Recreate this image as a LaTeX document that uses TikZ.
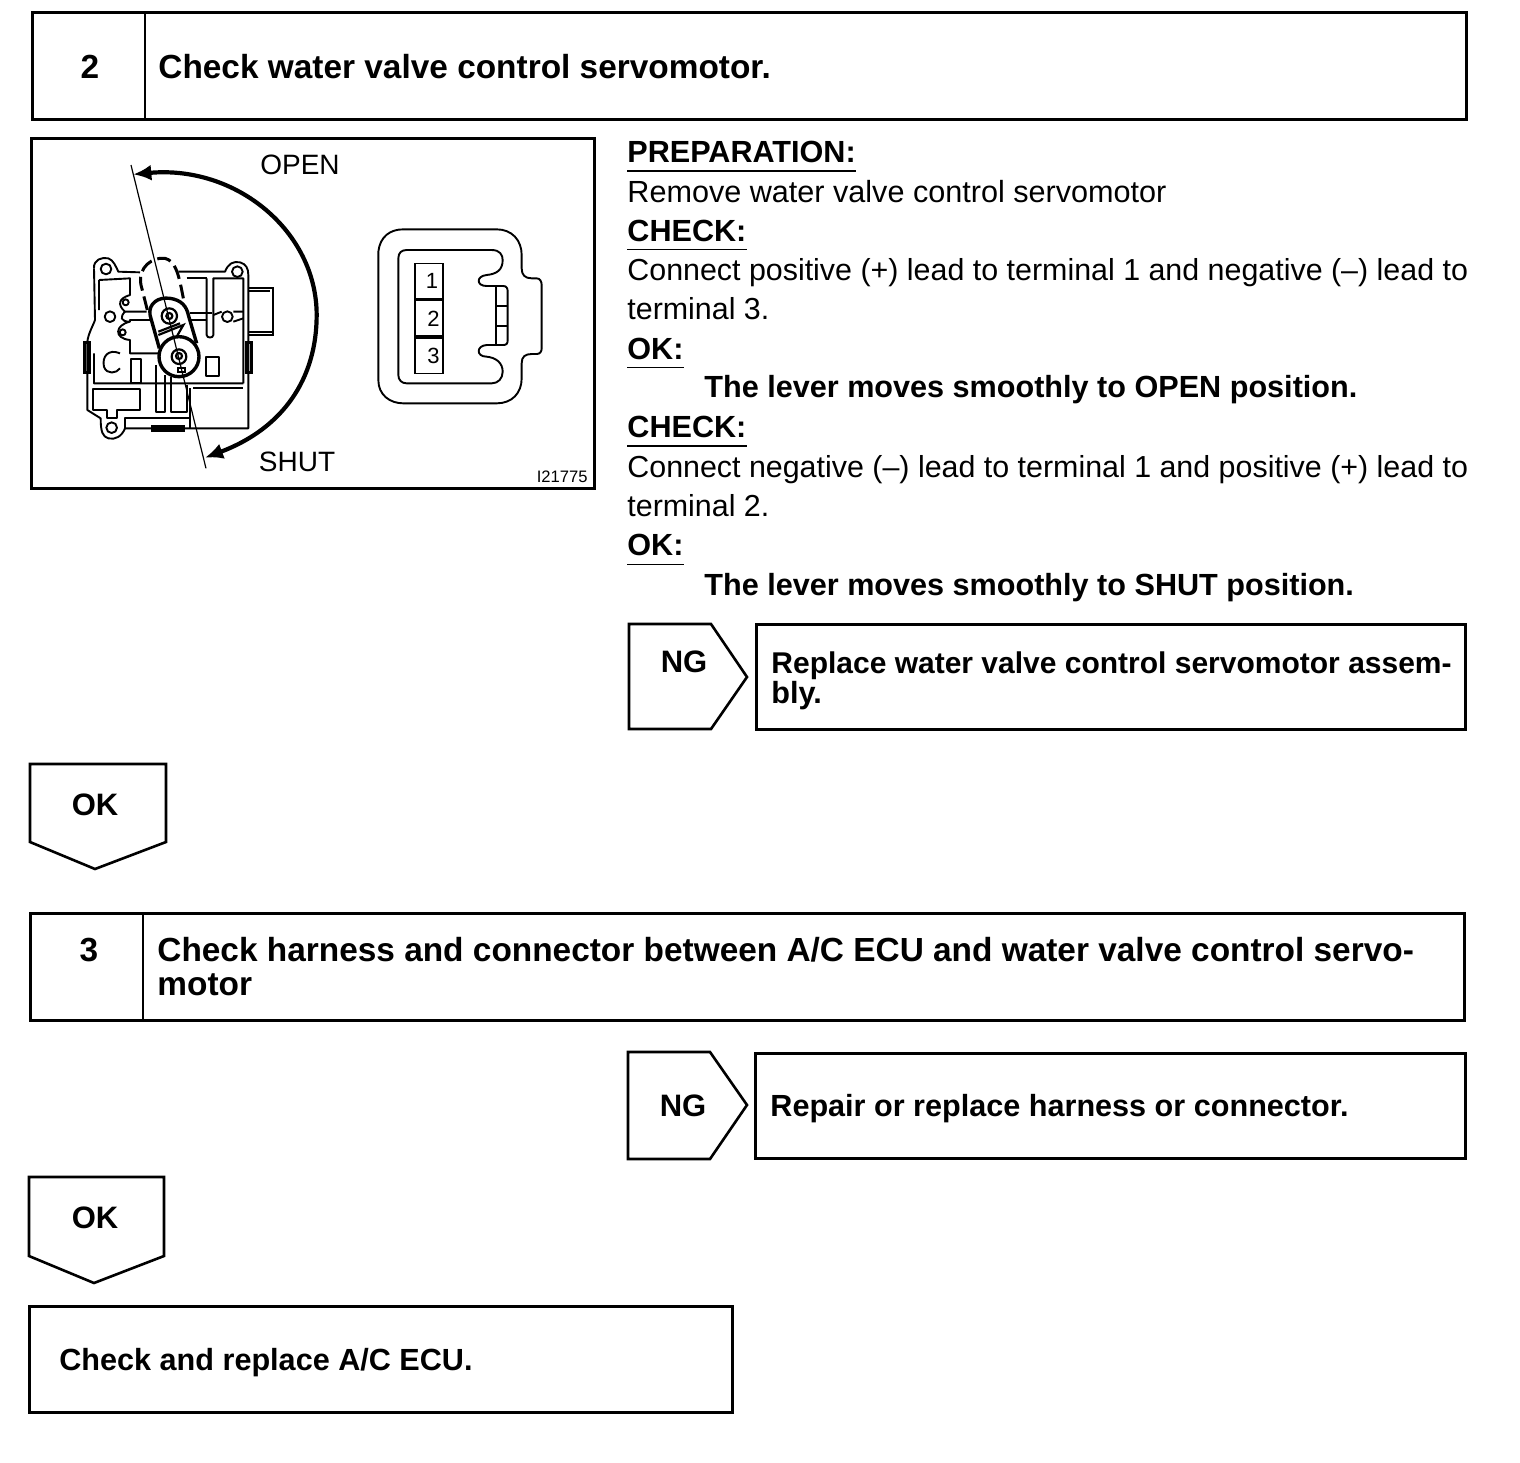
\documentclass[tikz,border=0pt]{standalone}
\usepackage{fontspec}
\setmainfont{Liberation Sans}
\usepackage{tikz}
\usetikzlibrary{arrows.meta,positioning}
\begin{document}
\begin{tikzpicture}[x=0.5pt,y=-0.5pt]
        \tikzstyle{framebox}=[draw=black,line width=1.4pt,rectangle,inner sep=0pt,anchor=north west]
        \tikzstyle{tagline}=[draw=black,line width=1.3pt,line join=miter]
        \tikzstyle{boldtext}=[anchor=base west,inner sep=0pt,font=\fontsize{16.7}{17}\selectfont\bfseries]
        \tikzstyle{midbold}=[anchor=base,inner sep=0pt,font=\fontsize{16.7}{17}\selectfont\bfseries]
        \tikzstyle{tagtext}=[anchor=base,inner sep=0pt,font=\fontsize{15.5}{17}\selectfont\bfseries]
        \tikzstyle{bodytext}=[anchor=base west,inner sep=0pt,font=\fontsize{15.2}{17}\selectfont]
        \tikzstyle{headtext}=[anchor=base west,inner sep=0pt,font=\fontsize{15.3}{17}\selectfont\bfseries]
        \tikzstyle{figtext}=[anchor=base,inner sep=0pt,font=\fontsize{14}{17}\selectfont]
        \tikzstyle{underrule}=[draw=black,line width=0.8pt]
        \tikzstyle{partline}=[draw=black,line width=0.95pt,line join=round]
        \useasboundingbox (0,0) rectangle (1520,1462);
        % step 2 header
        \node[framebox,minimum width=717pt,minimum height=53.5pt] (head2) at (31,11) {};
        \draw[framebox] (145,12) -- (145,120);
        \node[midbold] (num2) at (90,78) {2};
        \node[boldtext] (title2) at (158,78) {Check water valve control servomotor.};
        % figure frame
        \node[framebox,minimum width=281.5pt,minimum height=175pt] (figframe) at (30,137) {};
        \node[figtext] (open) at (300,174) {OPEN};
        \node[figtext] (shut) at (297,471) {SHUT};
        \node[anchor=base east,inner sep=0pt,font=\fontsize{8.3}{9}\selectfont] (figno) at (588,482) {I21775};
        % servomotor, traced
        \begin{scope}[shift={(30,135)},x=0.16667pt,y=-0.16667pt]
          \draw[partline] (192,400) .. controls (190,375) and (215,365) .. (235,370) .. controls (250,375) and (258,395) .. (265,410) -- (330,412);
          \draw[partline] (445,410) -- (585,410) .. controls (595,385) and (610,378) .. (630,382) .. controls (648,387) and (655,400) .. (655,420) -- (655,880) -- (285,880) .. controls (275,905) and (255,915) .. (235,910) .. controls (218,905) and (212,890) .. (212,850) -- (172,825) -- (172,620) .. controls (175,595) and (190,570) .. (195,555) -- (192,400);
          \draw[partline] (228,402) circle (16);
          \draw[partline] (622,410) circle (16);
          \draw[partline] (245,878) circle (16);
          \draw[partline] (240,545) circle (16);
          \draw[partline] (592,545) circle (16);
          \draw[partline] (287,502) circle (9);
          \draw[partline] (278,592) circle (9);
          \draw[partline] (207,435) -- (207,525) (207,435) -- (300,430) -- (300,480) .. controls (265,490) and (262,510) .. (285,530) -- (350,530);
          \draw[partline] (285,530) .. controls (270,545) and (270,560) .. (300,560) .. controls (255,570) and (250,610) .. (300,615) -- (300,655) -- (385,655);
          \draw[partline] (300,560) -- (300,555) -- (365,555);
          \draw[partline] (270,655) .. controls (235,640) and (215,665) .. (222,695) .. controls (230,720) and (260,715) .. (270,700);
          \draw[partline] (192,655) -- (192,745) -- (300,745) -- (640,745) (640,745) -- (640,430) -- (550,430) -- (550,600) (530,430) -- (530,600) .. controls (530,610) and (550,610) .. (550,600);
          \draw[partline] (470,430) -- (530,430) (480,535) -- (545,535) (480,555) -- (530,555);
          \draw[partline] (550,540) -- (575,530) (610,530) -- (640,530) (610,560) -- (640,550);
          \draw[partline] (302,672) rectangle (332,745);
          \draw[partline] (527,665) rectangle (568,722);
          \draw[partline] (378,690) -- (378,830) -- (405,830) -- (405,720);
          \draw[partline] (422,725) -- (422,830) -- (470,830) -- (470,750);
          \draw[partline] (190,762) -- (330,762) -- (330,825) -- (260,825) -- (260,850) -- (232,850) -- (232,825) -- (190,825) -- cycle;
          \draw[partline] (490,760) -- (640,760) (480,850) -- (285,850) -- (285,880) (480,760) -- (480,880);
          \draw[draw=black,line width=1.1pt] (655,458) -- (730,458) -- (730,600) -- (655,600) (655,468) -- (720,468) (655,590) -- (730,590);
          \draw[draw=black,line width=1.2pt] (163,622) rectangle (178,712);
          \draw[draw=black,line width=1.2pt] (650,622) rectangle (664,712);
          \draw[draw=black,line width=1.2pt] (368,875) rectangle (462,886);
          % dashed lever
          \draw[draw=black,line width=1.5pt,dash pattern=on 7pt off 3pt] (352,525) -- (333,450) .. controls (322,395) and (370,365) .. (405,370) .. controls (435,378) and (445,410) .. (460,490);
          % lever
          \draw[draw=black,line width=1.7pt] (360,540) .. controls (355,505) and (385,485) .. (420,490) .. controls (455,495) and (470,515) .. (475,540) -- (500,625);
          \draw[draw=black,line width=1.7pt] (360,540) -- (388,640);
          \draw[draw=black,line width=1.7pt] (447,665) circle (60);
          \draw[draw=black,line width=1.1pt] (418,543) circle (23);
          \draw[draw=black,line width=1.1pt] (418,543) circle (9);
          \draw[draw=black,line width=1.1pt] (447,665) circle (22);
          \draw[draw=black,line width=1.1pt] (447,663) circle (9);
          \draw[draw=black,line width=1.1pt] (385,600) -- (460,570) -- (440,605) (385,590) -- (450,565);
          \draw[draw=black,line width=1.1pt] (445,698) rectangle (465,712);
          % axis lines and travel
          \draw[draw=black,line width=0.6pt] (303,90) -- (528,1000);
          \draw[draw=black,line width=2.1pt,-{Latex[length=9pt,width=8pt]}] (860,540) .. controls (860,290) and (620,90) .. (310,118);
          \draw[draw=black,line width=2.1pt,-{Latex[length=9pt,width=8pt]}] (860,540) .. controls (860,730) and (760,880) .. (525,968);
        \end{scope}
        % connector, traced
        \begin{scope}[shift={(340,200)},x=0.16667pt,y=-0.16667pt]
          \draw[partline] (115,155) .. controls (120,110) and (150,88) .. (190,88) -- (470,88) .. controls (515,88) and (545,120) .. (545,165) -- (545,205) .. controls (545,225) and (555,235) .. (575,235) -- (590,235) .. controls (600,235) and (605,245) .. (605,255) -- (605,445) .. controls (605,455) and (600,462) .. (590,462) -- (575,462) .. controls (555,462) and (545,470) .. (545,490) -- (545,535) .. controls (545,580) and (515,610) .. (470,610) -- (190,610) .. controls (150,610) and (115,585) .. (115,540) -- cycle;
          \draw[partline] (175,175) .. controls (175,158) and (185,150) .. (200,150) -- (455,150) .. controls (480,150) and (488,165) .. (488,180) .. controls (488,210) and (470,222) .. (440,225) .. controls (408,228) and (408,258) .. (440,258) -- (490,258) .. controls (500,258) and (503,265) .. (503,275) -- (503,420) .. controls (503,430) and (500,435) .. (490,435) -- (440,435) .. controls (408,437) and (408,470) .. (440,470) .. controls (470,473) and (488,490) .. (488,515) .. controls (488,535) and (475,550) .. (455,550) -- (200,550) .. controls (185,550) and (175,540) .. (175,525) -- cycle;
          \draw[partline] (467,258) -- (467,435) (467,317) -- (503,317) (467,378) -- (503,378);
          \tikzstyle{pinbox}=[draw=black,line width=0.8pt,rectangle,minimum width=14.2pt,minimum height=17.8pt,inner sep=0pt,font=\fontsize{11}{12}\selectfont]
          \node[pinbox,anchor=north west] (pin1) at (222,188) {\kern3pt 1};
          \node[pinbox,below=0pt of pin1] (pin2) {\kern4.5pt 2};
          \node[pinbox,below=0pt of pin2] (pin3) {\kern4.5pt 3};
        \end{scope}
        % instructions
        \node[headtext] (prep) at (627,162) {PREPARATION:};
        \node[bodytext,font=\fontsize{15.3}{17}\selectfont] (remove) at (627,202) {Remove water valve control servomotor};
        \node[headtext] (check1) at (627,241) {CHECK:};
        \node[bodytext] (conn1) at (627,280) {Connect positive (+) lead to terminal 1 and negative (--) lead to};
        \node[bodytext] (conn1b) at (627,319) {terminal 3.};
        \node[headtext] (ok1) at (627,359) {OK:};
        \node[headtext] (lever1) at (704,397) {The lever moves smoothly to OPEN position.};
        \node[headtext] (check2) at (627,437) {CHECK:};
        \node[bodytext] (conn2) at (627,477) {Connect negative (--) lead to terminal 1 and positive (+) lead to};
        \node[bodytext] (conn2b) at (627,516) {terminal 2.};
        \node[headtext] (ok2) at (627,555) {OK:};
        \node[headtext] (lever2) at (704,595) {The lever moves smoothly to SHUT position.};
        \draw[underrule] ([yshift=-4.5pt]prep.base west) -- ([yshift=-4.5pt]prep.base east);
        \draw[underrule] ([yshift=-4.2pt]check1.base west) -- ([yshift=-4.2pt]check1.base east);
        \draw[underrule] ([yshift=-4.2pt]ok1.base west) -- ([yshift=-4.2pt]ok1.base east);
        \draw[underrule] ([yshift=-4.5pt]check2.base west) -- ([yshift=-4.5pt]check2.base east);
        \draw[underrule] ([yshift=-4.8pt]ok2.base west) -- ([yshift=-4.8pt]ok2.base east);
        % first NG branch
        \draw[tagline] (629,624) -- (711,624) -- (747,677) -- (711,729) -- (629,729) -- cycle;
        \node[tagtext] (ng1) at (684,672) {NG};
        \node[framebox,minimum width=354.5pt,minimum height=52.5pt] (repl1) at (755,623) {};
        \node[headtext,font=\fontsize{15.0}{17}\selectfont\bfseries] (repl1a) at (771,673) {Replace water valve control servomotor assem-};
        \node[headtext] (repl1b) at (771,703) {bly.};
        % first OK tag
        \draw[tagline] (30,764) -- (166,764) -- (166,842) -- (95,869) -- (30,842) -- cycle;
        \node[tagtext] (okay1) at (95,815) {OK};
        % step 3 header
        \node[framebox,minimum width=717pt,minimum height=53.5pt] (head3) at (29,912) {};
        \draw[framebox] (143,913) -- (143,1021);
        \node[midbold] (num3) at (89,961) {3};
        \node[boldtext] (title3a) at (157,961) {Check harness and connector between A/C ECU and water valve control servo-};
        \node[boldtext] (title3b) at (157,995) {motor};
        % second NG branch
        \draw[tagline] (628,1052) -- (710,1052) -- (747,1105) -- (710,1159) -- (628,1159) -- cycle;
        \node[tagtext] (ng2) at (683,1116) {NG};
        \node[framebox,minimum width=355pt,minimum height=52.5pt] (repl2) at (754,1052) {};
        \node[headtext] (repl2a) at (770,1116) {Repair or replace harness or connector.};
        % second OK tag
        \draw[tagline] (29,1177) -- (164,1177) -- (164,1256) -- (94,1283) -- (29,1256) -- cycle;
        \node[tagtext] (okay2) at (95,1228) {OK};
        % last step
        \node[framebox,minimum width=351.5pt,minimum height=53pt] (last) at (28,1305) {};
        \node[headtext] (lasttext) at (59,1370) {Check and replace A/C ECU.};
      \end{tikzpicture}
\end{document}
